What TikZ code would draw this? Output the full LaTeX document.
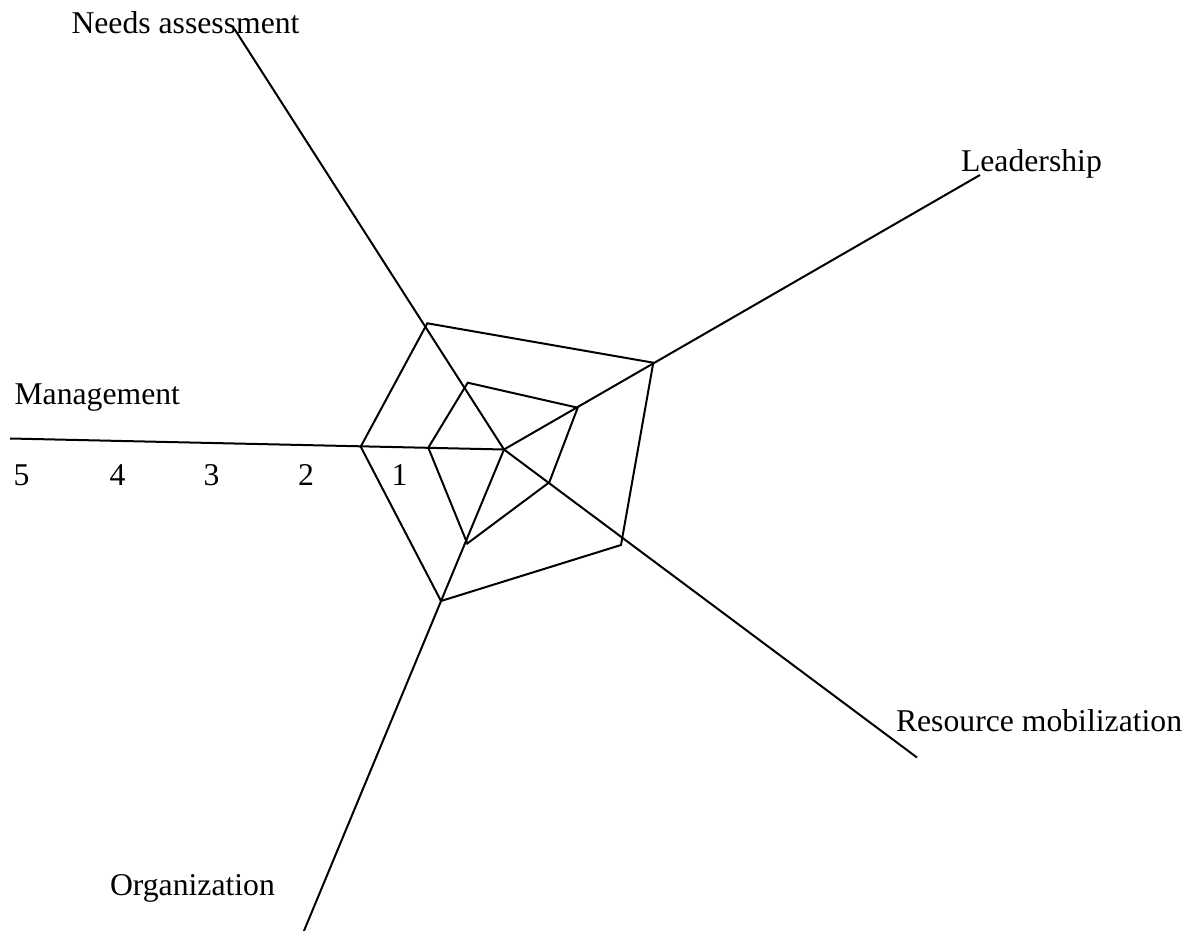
\documentclass[tikz,border=0pt]{standalone}
\usepackage{fontspec}
\setmainfont{Liberation Serif}
\begin{document}
\begin{tikzpicture}[x=0.5pt,y=-0.5pt,
    axisline/.style={line width=1pt},
    web/.style={line width=1pt, line join=miter},
    lbl/.style={anchor=base west, inner sep=0pt, outer sep=0pt,
      font=\fontsize{15.85}{19}\selectfont}]
  \useasboundingbox (0,0) rectangle (1190,931);

  % centre and axis ends
  \coordinate (c) at (504,449.5);
  \coordinate (aNeeds) at (234.5,29);
  \coordinate (aLead) at (980,175);
  \coordinate (aRes) at (917,757.5);
  \coordinate (aOrg) at (303.5,932);
  \coordinate (aMan) at (10,438.5);

  % axes
  \foreach \e in {aNeeds,aLead,aRes,aOrg,aMan}
    \draw[axisline] (c) -- (\e);

  % outer score polygon
  \coordinate (o1) at (427.3,323.3);
  \coordinate (o2) at (653.3,362.7);
  \coordinate (o3) at (621,545);
  \coordinate (o4) at (441,601);
  \coordinate (o5) at (360.7,446.7);
  \draw[web] (o1) -- (o2) -- (o3) -- (o4) -- (o5) -- cycle;

  % inner score polygon
  \coordinate (i1) at (467.7,382.7);
  \coordinate (i2) at (577.7,407.7);
  \coordinate (i3) at (549.3,482.3);
  \coordinate (i4) at (467.3,543.5);
  \coordinate (i5) at (428.3,447.7);
  \draw[web] (i1) -- (i2) -- (i3) -- (i4) -- (i5) -- cycle;

  % axis labels
  \node[lbl] (tNeeds) at (71.5,33.3) {Needs assessment};
  \node[lbl] (tLead) at (961,171.7) {Leadership};
  \node[lbl] (tRes) at (896,731.7) {Resource mobilization};
  \node[lbl] (tOrg) at (110,895) {Organization};
  \node[lbl] (tMan) at (14.5,404) {Management};

  % scale numbers
  \node[lbl] (n5) at (13.6,485) {5};
  \node[lbl] (n4) at (109.6,485) {4};
  \node[lbl] (n3) at (203.5,485) {3};
  \node[lbl] (n2) at (298,485) {2};
  \node[lbl] (n1) at (391.5,485) {1};
\end{tikzpicture}
\end{document}
